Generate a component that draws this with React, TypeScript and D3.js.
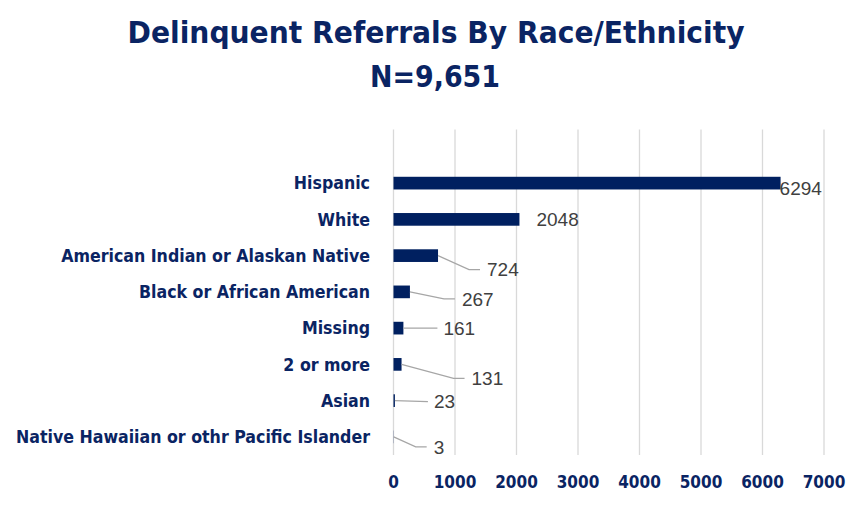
import React from "react";
import * as d3 from "d3";

const categories = [
  "Hispanic",
  "White",
  "American Indian or Alaskan Native",
  "Black or African American",
  "Missing",
  "2 or more",
  "Asian",
  "Native Hawaiian or othr Pacific Islander",
];
const values = [6294, 2048, 724, 267, 161, 131, 23, 3];
const xTicks = [0, 1000, 2000, 3000, 4000, 5000, 6000, 7000];
const titleLine1 = "Delinquent  Referrals By Race/Ethnicity";
const titleLine2 = "N=9,651";

// label placement relative to bar end: [dx, dy, leader?]
const labelOffsets: [number, number, boolean][] = [
  [-1, 5, false],
  [17, 0, false],
  [49, 14, true],
  [52, 7, true],
  [40, 0, true],
  [70, 14, true],
  [39, 1, true],
  [40, 10, true],
];

const W = 867;
const H = 506;
const NAVY = "#0a2463";
const BAR = "#002060";
const condensed = "'DejaVu Sans Condensed', 'DejaVu Sans', sans-serif";

export default function App() {
  const x = d3.scaleLinear().domain([0, 7000]).range([393.5, 824]);
  const y = d3
    .scaleBand<string>()
    .domain(categories)
    .range([165, 455])
    .paddingInner(0.65)
    .paddingOuter(0.325);
  const gridTop = 129.5;
  const gridBottom = 455;

  return (
    <svg
      width={W}
      height={H}
      style={{ position: "absolute", left: 0, top: 0, background: "#fff" }}
    >
      <rect x={0} y={0} width={W} height={H} fill="#fff" />
      <text
        x={436}
        y={43}
        textAnchor="middle"
        fontFamily={condensed}
        fontWeight="bold"
        fontSize={30}
        fill={NAVY}
        textLength={617}
        lengthAdjust="spacingAndGlyphs"
      >
        {titleLine1}
      </text>
      <text
        x={435}
        y={87}
        textAnchor="middle"
        fontFamily={condensed}
        fontWeight="bold"
        fontSize={30}
        fill={NAVY}
        textLength={130}
        lengthAdjust="spacingAndGlyphs"
      >
        {titleLine2}
      </text>

      {xTicks.map((t) => (
        <g key={t}>
          <line
            x1={x(t)}
            x2={x(t)}
            y1={gridTop}
            y2={gridBottom}
            stroke="#d9d9d9"
            strokeWidth={1.3}
          />
          <text
            x={x(t)}
            y={482}
            dy="0.35em"
            textAnchor="middle"
            fontFamily={condensed}
            fontWeight="bold"
            fontSize={17}
            fill={NAVY}
          >
            {t}
          </text>
        </g>
      ))}

      {categories.map((c, i) => {
        const yc = (y(c) as number) + y.bandwidth() / 2;
        const xe = x(values[i]);
        const [dx, dy, leader] = labelOffsets[i];
        const tx = xe + dx;
        const ty = yc + dy;
        let path = "";
        if (leader) {
          if (Math.abs(dy) > 2) {
            path = `M${xe},${yc} L${tx - 18},${ty} L${tx - 7},${ty}`;
          } else {
            path = `M${xe},${yc} L${tx - 6},${ty}`;
          }
        }
        return (
          <g key={c}>
            <text
              x={370}
              y={yc}
              dy="0.35em"
              textAnchor="end"
              fontFamily={condensed}
              fontWeight="bold"
              fontSize={17.6}
              fill={NAVY}
            >
              {c}
            </text>
            <rect
              x={x(0)}
              y={y(c)}
              width={x(values[i]) - x(0)}
              height={y.bandwidth()}
              fill={BAR}
            />
            {leader && (
              <path d={path} fill="none" stroke="#a6a6a6" strokeWidth={1.2} />
            )}
            <text
              x={tx}
              y={ty}
              dy="0.36em"
              fontFamily="'Liberation Sans', Arial, sans-serif"
              fontSize={19}
              fill="#404040"
            >
              {values[i]}
            </text>
          </g>
        );
      })}
    </svg>
  );
}
